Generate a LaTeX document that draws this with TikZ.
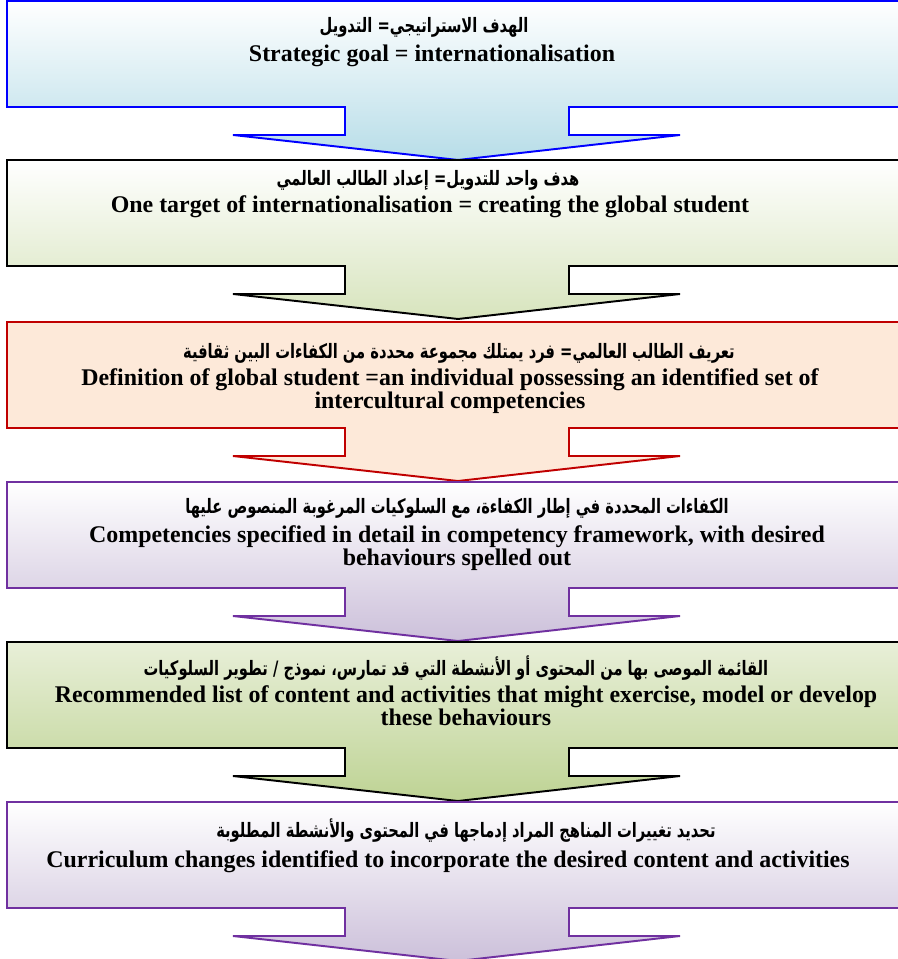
\documentclass[tikz,border=0pt]{standalone}
\usepackage{fontspec}
\setmainfont{Liberation Serif}
\newfontfamily\arabicfont[Script=Arabic, FakeStretch=0.74]{DejaVu Sans}
\TeXXeTstate=1
\lineskiplimit=-20pt

\definecolor{goalblue}{RGB}{0,0,255}
\definecolor{goalfill}{RGB}{183,221,232}
\definecolor{targetfill}{RGB}{215,228,189}
\definecolor{defred}{RGB}{192,0,0}
\definecolor{deffill}{RGB}{253,233,217}
\definecolor{compviolet}{RGB}{112,48,160}
\definecolor{compfill}{RGB}{204,192,218}
\definecolor{listgreen}{RGB}{190,211,148}
\definecolor{listtop}{RGB}{232,239,216}

% box with a down arrow under it, #1 = top edge, #2 = style
\newcommand{\arrowbox}[2]{%
  \path[#2] (7,#1) -- (909,#1) -- (909,#1+106) -- (569,#1+106) -- (569,#1+134)
    -- (680,#1+134) -- (458,#1+159) -- (233,#1+134) -- (345,#1+134)
    -- (345,#1+106) -- (7,#1+106) -- cycle;}

\begin{document}
\begin{tikzpicture}[
  x=0.02cm, y=-0.02cm,
  flow/.style={line width=1.1pt, line join=miter},
  entext/.style={font=\bfseries\fontsize{13.6}{12.6}\selectfont, align=center, anchor=base, inner sep=0pt},
  artext/.style={font=\arabicfont\bfseries\fontsize{11.3}{12}\selectfont, anchor=base, inner sep=0pt}
]
  \useasboundingbox (0,0) rectangle (898,959);
  \clip (0,0) rectangle (898,959);

  \arrowbox{1}{flow, draw=goalblue, top color=white, bottom color=goalfill}
  \node[artext] (goalAr) at (424,33) {\beginR الهدف الاستراتيجي= التدويل\endR};
  \node[entext] (goalEn) at (432,62) {Strategic goal = internationalisation};

  \arrowbox{160}{flow, draw=black, top color=white, bottom color=targetfill}
  \node[artext] (targetAr) at (428,186) {\beginR هدف واحد للتدويل= إعداد الطالب العالمي\endR};
  \node[entext] (targetEn) at (430,213) {One target of internationalisation = creating the global student};

  \arrowbox{322}{flow, draw=defred, fill=deffill}
  \node[artext] (defAr) at (459,358) {\beginR تعريف الطالب العالمي= فرد يمتلك مجموعة محددة من الكفاءات البين ثقافية\endR};
  % base of a two-line node = its last line
  \node[entext] (defEn) at (450,408) {Definition of global student =an individual possessing an identified set of\\intercultural competencies};

  \arrowbox{482}{flow, draw=compviolet, top color=white, bottom color=compfill}
  \node[artext] (compAr) at (457,513) {\beginR الكفاءات المحددة في إطار الكفاءة، مع السلوكيات المرغوبة المنصوص عليها\endR};
  \node[entext] (compEn) at (457,565) {Competencies specified in detail in competency framework, with desired\\behaviours spelled out};

  \arrowbox{642}{flow, draw=black, top color=listtop, bottom color=listgreen}
  \node[artext] (listAr) at (456,675) {\beginR القائمة الموصى بها من المحتوى أو الأنشطة التي قد تمارس، نموذج / تطوير السلوكيات\endR};
  \node[entext] (listEn) at (466,725) {Recommended list of content and activities that might exercise, model or develop\\these behaviours};

  \arrowbox{802}{flow, draw=compviolet, top color=white, bottom color=compfill}
  \node[artext] (currAr) at (466,837) {\beginR تحديد تغييرات المناهج المراد إدماجها في المحتوى والأنشطة المطلوبة\endR};
  \node[entext] (currEn) at (448,867) {Curriculum changes identified to incorporate the desired content and activities};
\end{tikzpicture}
\end{document}
